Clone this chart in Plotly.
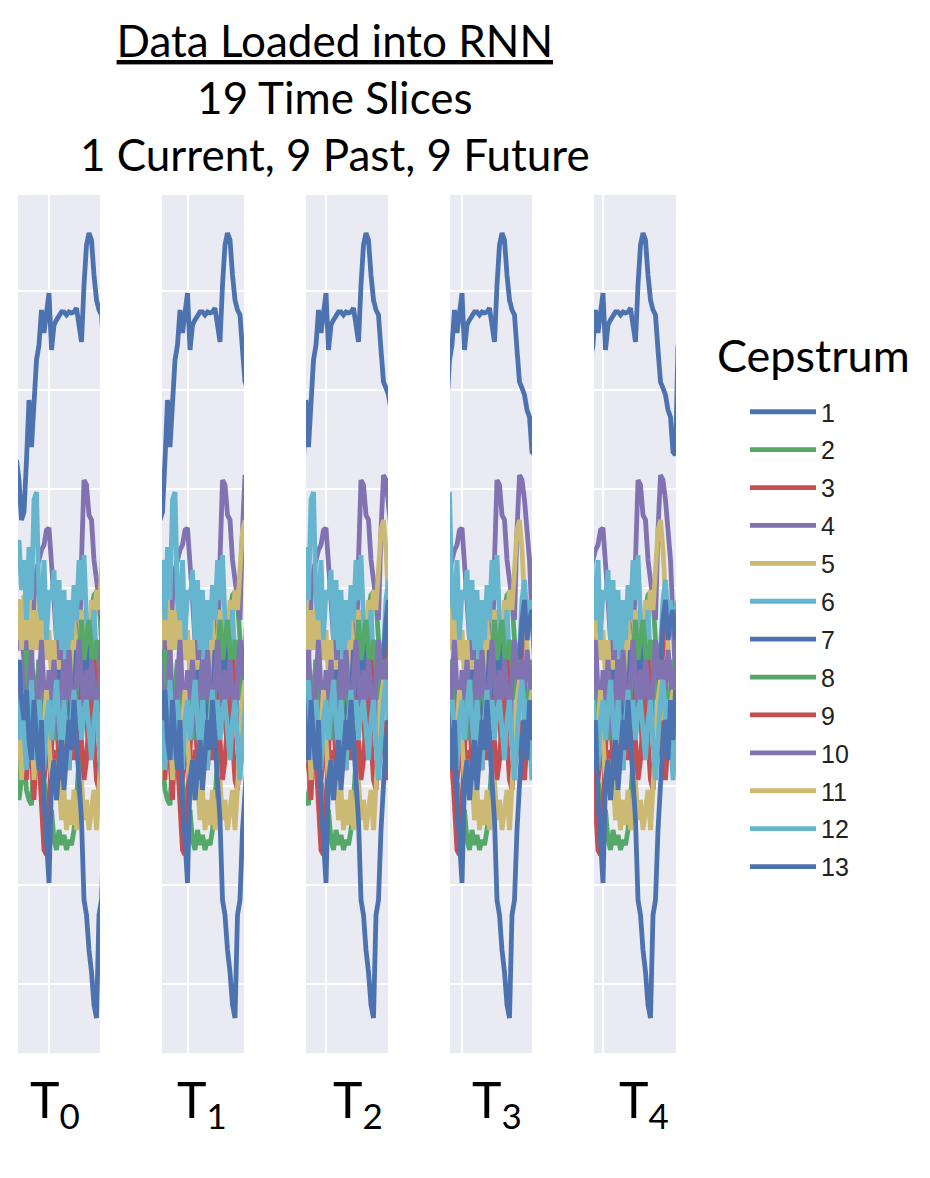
import plotly.graph_objects as go

# ---------------- data ----------------
frames = list(range(-13, 31))  # frame index (gridline at frame 0)
coef_names = [str(i) for i in range(1, 14)]

c1 = [22.7, 20.7, 16.7, 17.5, 22.7, 28.7, 24.0, 29.2, 32.7, 34.2, 37.7, 35.4, 37.2, 39.4, 33.7, 36.2,
      36.7, 37.2, 37.5, 37.5, 37.2, 37.5, 37.4, 37.5, 37.9, 36.2, 34.5, 40.2, 44.2, 45.4, 44.7, 41.2,
      38.7, 37.7, 37.2, 33.7, 30.5, 29.9, 29.2, 27.7, 27.0, 23.5, 23.2, 34.2]
c2 = [-7.3, -11.3, -9.3, -7.3, -10.3, -11.3, -11.8, -7.3, -5.3, -3.3, -7.3, -9.3, -11.3, -13.3, -12.3, -15.3,
      -16.3, -14.3, -15.8, -14.8, -16.3, -15.3, -15.8, -14.3, -11.3, -7.3, -3.3, 0.7, 2.7, 4.7, 7.7, 9.2,
      9.5, 8.7, 4.7, 2.7, 0.7, -1.3, -0.3, -3.3, -1.3, -5.3, -3.3, -4.3]
c3 = [7.7, 8.7, 6.7, 4.7, 8.7, 2.7, -1.3, 0.7, -5.3, -7.3, -11.3, -16.3, -16.8, -11.3, -7.3, -1.3,
      -3.3, -7.3, -5.3, -9.3, -6.3, -1.3, -5.3, -3.3, 0.7, -1.3, -5.3, -9.3, -7.3, -3.3, -1.3, -5.3,
      -9.3, -10.3, -7.3, -3.3, 0.7, 3.7, 6.7, 4.7, 8.7, 6.7, 3.7, 2.7]
c4 = [4.7, 3.7, 5.7, 2.7, 4.7, 6.7, 2.7, 8.7, 11.7, 12.7, 13.7, 14.2, 15.7, 15.9, 12.7, 8.7,
      4.7, -1.3, 4.7, 7.7, 0.7, -3.3, 4.7, 8.7, 3.7, 0.7, 12.7, 20.7, 20.2, 17.2, 16.7, 12.7,
      10.7, 8.7, 6.7, 15.7, 21.2, 20.7, 18.7, 15.7, 12.7, 6.7, 0.7, -1.3]
c5 = [4.7, 8.7, 3.7, 9.2, 4.7, 8.7, 2.7, 7.7, 3.7, 8.7, 4.7, 7.7, 2.7, 5.7, 0.7, 4.7,
      -1.3, 2.7, -3.3, 0.7, 4.7, -1.3, 2.7, 6.7, 0.7, 4.7, 7.7, 3.7, 6.7, 2.7, 8.7, 6.7,
      9.7, 7.7, 12.7, 15.7, 16.7, 13.7, 8.7, 3.7, -0.3, -3.3, -1.3, -0.3]
c6 = [12.7, 14.7, 9.7, 12.7, 6.7, 14.0, 8.7, 18.7, 19.5, 8.7, 6.7, 12.7, 4.7, 9.7, 8.7, 11.7,
      4.7, 10.7, 3.7, 9.7, -0.3, 8.7, 4.7, 10.2, 6.7, 12.7, 8.7, 13.2, 6.7, 0.7, 4.7, 7.7,
      2.7, -3.3, -7.3, -1.3, 4.7, 8.7, 10.7, 6.7, 8.7, 5.7, 7.7, 8.7]
c7 = [-0.3, -3.3, 1.7, -1.3, 3.7, -0.3, -3.3, 0.7, -1.3, 2.7, -0.3, -4.3, -1.3, 0.7, -3.3, -0.3,
      -2.3, 1.7, -1.3, 2.7, -0.3, -3.3, 0.7, -1.3, 3.7, 0.7, -1.3, 2.7, 4.7, -0.3, -3.3, 0.7,
      2.7, -1.3, 4.7, 0.7, 2.7, 6.7, 8.7, 4.7, 6.7, 7.7, 4.7, 5.7]
c8 = [-1.3, 1.7, -3.3, -0.3, 3.7, -1.3, 0.7, -3.3, -0.3, 2.7, -1.3, -4.3, -0.3, -3.3, 0.7, -2.3,
      -5.3, -1.3, 0.7, -3.3, -0.3, 2.7, -1.3, -4.3, -0.3, 3.7, 6.7, 2.7, 4.7, 6.7, 3.7, 0.7,
      4.7, 1.7, -1.3, 0.7, 2.7, -1.3, -0.3, -3.3, -0.3, 2.7, -1.3, -0.3]
c9 = [-3.3, -7.3, -1.3, -5.3, -9.3, -3.3, -7.3, -11.3, -5.3, -1.3, -5.3, -9.3, -7.3, -3.3, -7.3, -10.3,
      -6.3, -9.3, -5.3, -1.3, -5.3, -8.3, -4.3, -7.3, -3.3, -6.3, -1.3, 0.7, -3.3, -6.3, -1.3, 2.7,
      -1.3, -5.3, -8.3, -6.3, -3.3, -7.3, -9.3, -5.3, -7.3, -3.3, -1.3, -3.3]
c10 = [0.7, -3.3, 2.7, -1.3, -5.3, -0.3, 3.7, -1.3, -4.3, 0.7, 4.7, -0.3, -3.3, 1.7, -1.3, 2.7,
       -1.3, -5.3, -0.3, 2.7, -1.3, 3.7, -0.3, -3.3, 0.7, 4.7, 0.7, -2.3, 1.7, -1.3, 2.7, -0.3,
       -3.3, 0.7, 4.7, 1.7, -1.3, 2.7, -0.3, 3.7, 0.7, -1.3, 2.7, 0.7]
c11 = [-7.3, -3.3, -9.3, -5.3, -1.3, -7.3, -3.3, -9.3, -5.3, -1.3, -7.3, -3.3, -0.3, -5.3, -9.3, -7.3,
       -11.3, -9.3, -13.3, -10.3, -14.3, -11.3, -13.8, -10.3, -14.3, -11.8, -9.3, -13.3, -11.3, -14.3, -12.3, -10.3,
       -14.3, -9.3, -5.3, -1.3, 0.7, -3.3, -1.3, -5.3, -2.3, -0.3, -3.3, -1.3]
c12 = [-1.3, -5.3, -0.3, -4.3, -8.3, -3.3, 0.7, -4.3, -7.3, -1.3, -5.3, -8.3, -3.3, -1.3, -5.3, -2.3,
       0.7, -3.3, -6.3, -1.3, -5.3, -8.3, -3.3, -0.3, -4.3, -1.3, -5.3, -2.3, -1.3, -4.3, -7.3, -3.3,
       -1.3, -5.3, -9.3, -5.3, -1.3, 0.7, -3.3, -1.3, -5.3, -9.3, -5.3, -3.3]
c13 = [0.7, 2.7, -1.3, -3.3, -0.3, -5.3, -7.3, -1.3, -5.3, -8.3, -3.3, -11.3, -15.3, -19.6, -9.3, -7.3,
       -11.3, -8.3, -5.3, -10.3, -7.3, -3.3, -6.3, -1.3, -5.3, -9.3, -13.3, -21.3, -22.8, -26.3, -28.5, -31.8,
       -33.1, -22.8, -21.3, -14.3, -9.3, -5.3, -3.3, -7.3, -1.3, -5.3, -0.3, -1.3]

series = [c1, c2, c3, c4, c5, c6, c7, c8, c9, c10, c11, c12, c13]

panel_labels = ["T<sub>0</sub>", "T<sub>1</sub>", "T<sub>2</sub>", "T<sub>3</sub>", "T<sub>4</sub>"]
panel_start = [-12.4, -10.2, -8.0, -4.8, -3.6]   # first visible frame of each window
window_len = 32.8

# ---------------- style ----------------
OFF = 8                      # page body margin
W, H = 930 - 2 * OFF, 1178 - 2 * OFF
palette = ["#4C72B0", "#55A868", "#C44E52", "#8172B2", "#CCB974", "#64B5CD"]
panel_left_px = [18, 162, 306, 450, 594]   # page coordinates
panel_w_px = 82
plot_top_px, plot_bot_px = 195, 1053
label_x_px = [55, 202, 358, 497, 644]
title_font = "Lato, 'Open Sans', sans-serif"


def px(p):
    return (p - OFF) / W


def py(p):
    return 1 - (p - OFF) / H


fig = go.Figure()
for k in range(5):
    ax = "" if k == 0 else str(k + 1)
    for i, (name, vals) in enumerate(zip(coef_names, series)):
        fig.add_trace(go.Scatter(
            x=frames, y=vals, mode="lines", name=name,
            legendgroup=name, showlegend=(k == 0),
            line=dict(color=palette[i % 6], width=4.8),
            xaxis="x" + ax, yaxis="y" + ax,
        ))
    ydom = [py(plot_bot_px), py(plot_top_px)]
    xdom = [px(panel_left_px[k]), px(panel_left_px[k] + panel_w_px)]
    fig.layout["xaxis" + ax] = dict(
        domain=xdom, range=[panel_start[k], panel_start[k] + window_len],
        tickmode="array", tickvals=[0], showticklabels=False, ticks="",
        showgrid=True, gridcolor="white", gridwidth=2.4, zeroline=False,
        showline=False, anchor="y" + ax)
    fig.layout["yaxis" + ax] = dict(
        domain=ydom, range=[-36.6, 49.2], tick0=0, dtick=9.9,
        showticklabels=False, ticks="", showgrid=True, gridcolor="white",
        gridwidth=2.4, zeroline=False, showline=False, anchor="x" + ax)
    fig.add_annotation(
        text=panel_labels[k], x=px(label_x_px[k]), y=py(1102),
        xref="paper", yref="paper", xanchor="center", yanchor="middle",
        showarrow=False, font=dict(family=title_font, size=50, color="black"))

fig.add_annotation(
    text="<u>Data Loaded into RNN</u><br>19 Time Slices<br>1 Current, 9 Past, 9 Future",
    x=px(335), y=py(97), xref="paper", yref="paper",
    xanchor="center", yanchor="middle", showarrow=False, align="center",
    font=dict(family=title_font, size=44, color="black"))

fig.add_annotation(
    text="Cepstrum", x=px(813), y=py(355), xref="paper", yref="paper",
    xanchor="center", yanchor="middle", showarrow=False,
    font=dict(family=title_font, size=45, color="black"))

fig.update_layout(
    width=W, height=H, margin=dict(l=0, r=0, t=0, b=0),
    paper_bgcolor="white", plot_bgcolor="#EAEAF2",
    showlegend=True,
    legend=dict(x=px(745), y=py(389), xanchor="left", yanchor="top",
                font=dict(family="'Liberation Sans', Arial, sans-serif", size=25, color="#222"),
                itemwidth=66, tracegroupgap=2.4, bgcolor="rgba(0,0,0,0)"),
)

fig.write_html("out.html")
